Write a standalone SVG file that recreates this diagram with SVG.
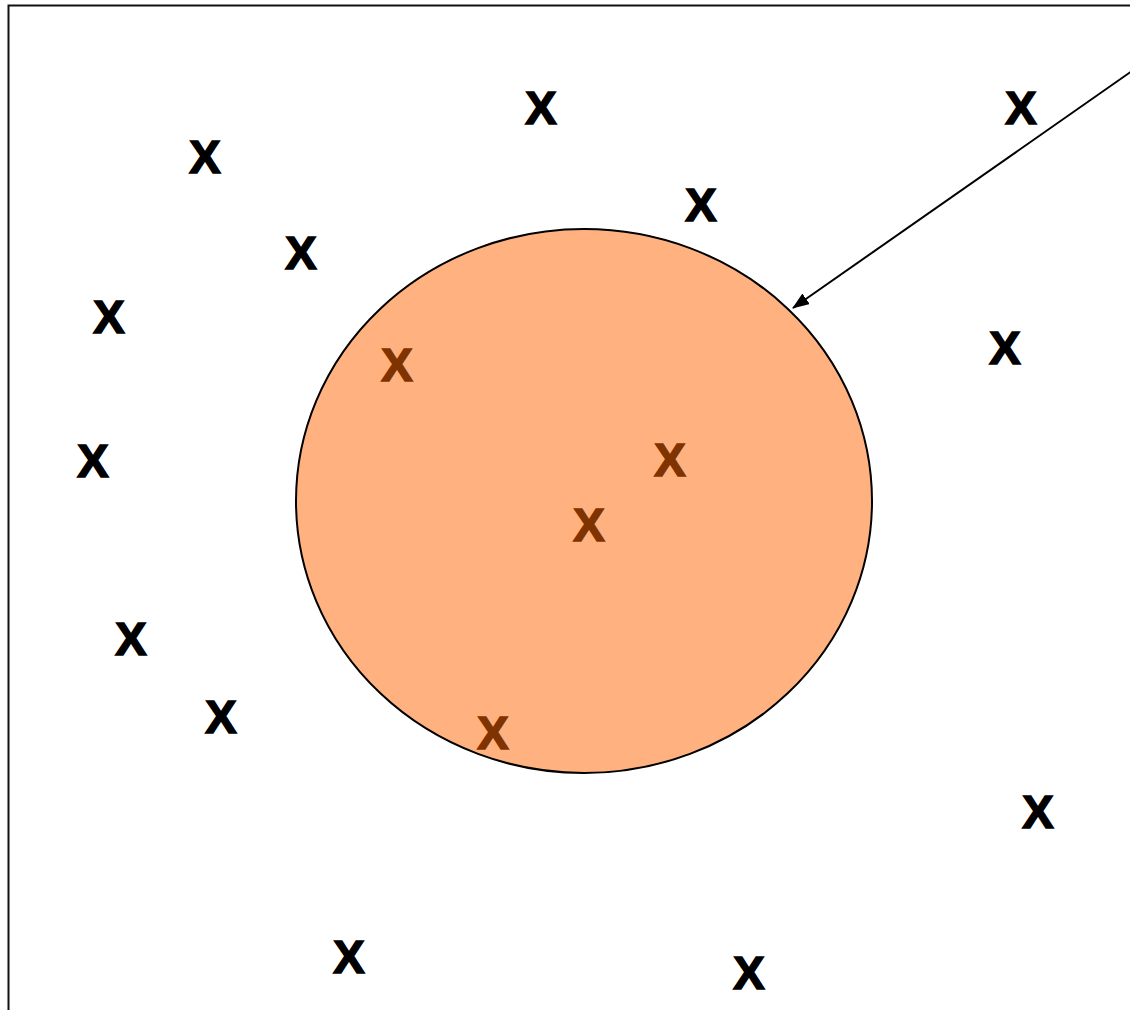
<svg xmlns="http://www.w3.org/2000/svg" width="1130" height="1010" viewBox="0 0 1130 1010">
<style>
.x{font-family:"Liberation Sans",Arial,sans-serif;font-weight:bold;font-size:47px;text-anchor:middle;fill:#000;stroke:#000;stroke-width:1.6px;stroke-linejoin:miter}
.in{fill:#7F3300;stroke:#7F3300}
</style>
<defs>
<marker id="ah2" markerWidth="17" markerHeight="13" refX="16" refY="6.5" orient="auto" markerUnits="userSpaceOnUse" viewBox="0 0 17 13">
<path d="M0,0 L17,6.5 L0,13 Z" fill="#000"/>
</marker>
</defs>
<rect width="1130" height="1010" fill="#fff"/>
<rect id="frame" x="8.5" y="5.5" width="1200" height="1100" fill="none" stroke="#111" stroke-width="2"/>
<g id="region">
<ellipse cx="584" cy="501" rx="288" ry="272" fill="#FFB280" stroke="#000" stroke-width="2"/>
</g>
<g id="connectors">
<line x1="1132" y1="71" x2="793" y2="308" stroke="#000" stroke-width="2" marker-end="url(#ah2)"/>
</g>
<g id="points">
<text id="p1" class="x" x="205" y="173">X</text>
<text id="p2" class="x" x="541" y="124">X</text>
<text id="p3" class="x" x="701" y="221">X</text>
<text id="p4" class="x" x="1021" y="124">X</text>
<text id="p5" class="x" x="301" y="269">X</text>
<text id="p6" class="x" x="109" y="333">X</text>
<text id="p7" class="x" x="1005" y="364">X</text>
<text id="p8" class="x" x="93" y="477">X</text>
<text id="p9" class="x" x="131" y="655">X</text>
<text id="p10" class="x" x="221" y="733">X</text>
<text id="p11" class="x" x="1038" y="828">X</text>
<text id="p12" class="x" x="349" y="973">X</text>
<text id="p13" class="x" x="749" y="989">X</text>
<text id="q1" class="x in" x="397" y="381">X</text>
<text id="q2" class="x in" x="670" y="476">X</text>
<text id="q3" class="x in" x="589" y="541">X</text>
<text id="q4" class="x in" x="493" y="749">X</text>
</g>
</svg>
